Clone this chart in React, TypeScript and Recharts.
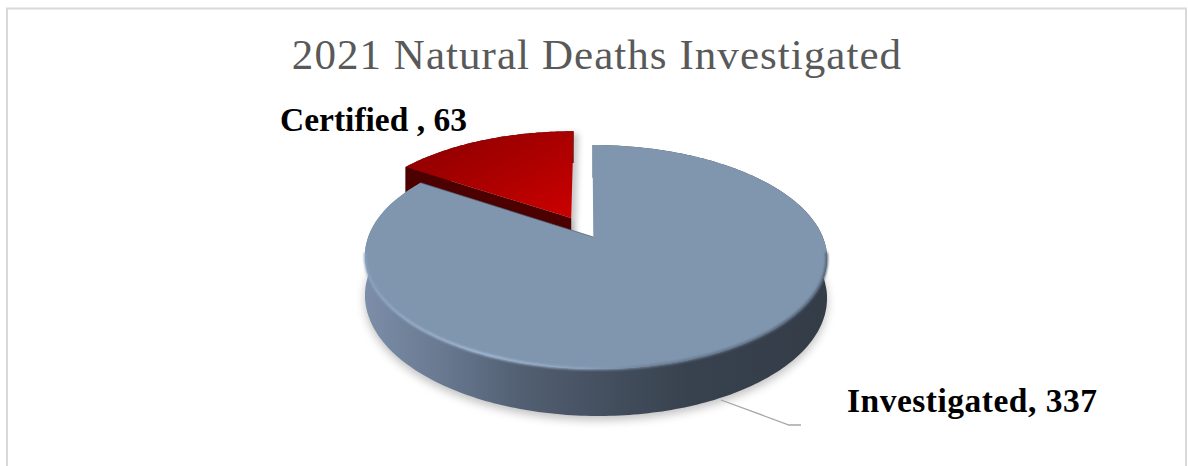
import { Pie, PieChart } from "recharts";

const names = ["Certified", "Investigated"];
const values = [63, 337];
const labelTexts = ["Certified , 63", "Investigated, 337"];
const colors = ["url(#redFace)", "#8095ae"];
const explodes = [0.2057, 0];

const data = names.map((name, i) => ({ name, value: values[i], fill: colors[i] }));

const WIDTH = 1188;
const HEIGHT = 466;
// squash and perspective of the tilted pie
const TILT = 0.477;
const PERSPECTIVE = 0.1786;
const DEPTH = 38.6;
const SKEW = 3;

function Slice3D(props: any) {
  const { cx, cy, outerRadius, startAngle, endAngle, name, payload } = props;
  const idx = names.indexOf(name ?? payload?.name);
  const explode = explodes[idx] ?? 0;
  const mid = (((startAngle + endAngle) / 2) * Math.PI) / 180;
  const du = Math.cos(mid) * explode;
  const dv = Math.sin(mid) * explode;

  const project = (u: number, v: number, z = 0, scale = 1) => {
    const d = 1 + PERSPECTIVE * (v * scale + dv);
    return [
      cx + (outerRadius * (u * scale + du)) / d - SKEW * (v * scale + dv + PERSPECTIVE),
      cy - (outerRadius * TILT * (v * scale + dv)) / d + (z * DEPTH) / d,
    ];
  };
  const arc = (z = 0, from = startAngle, to = endAngle, scale = 1) => {
    const steps = Math.ceil(Math.abs(to - from));
    const pts: number[][] = [];
    for (let i = 0; i <= steps; i++) {
      const a = ((from + ((to - from) * i) / steps) * Math.PI) / 180;
      pts.push(project(Math.cos(a), Math.sin(a), z, scale));
    }
    return pts;
  };
  const toPath = (pts: number[][], close = true) =>
    "M" + pts.map((p) => p[0].toFixed(1) + " " + p[1].toFixed(1)).join("L") + (close ? "Z" : "");

  const base = project(0, 0);
  const apex = [base[0] - 2.2, base[1]];
  const baseLow = project(0, 0, 1);
  const apexLow = [baseLow[0] - 2.2, baseLow[1]];
  const top = [apex, ...arc(0)];
  const wall = [...arc(0), ...arc(1).reverse()];
  const rad = (deg: number) => (deg * Math.PI) / 180;

  if (idx === 0) {
    const corner = project(Math.cos(rad(endAngle)), Math.sin(rad(endAngle)));
    const cornerLow = project(Math.cos(rad(endAngle)), Math.sin(rad(endAngle)), 1);
    return (
      <g>
        <path d={toPath([apex, apexLow, cornerLow, corner])} fill="#000" opacity={0.3} filter="url(#soft)" transform="translate(4 2)" />
        <path d={toPath(top)} fill="#000" opacity={0.22} filter="url(#soft)" transform="translate(5 2)" />
        <path d={toPath(wall)} fill="#3a0000" />
        <path d={toPath([corner, apex, apexLow, cornerLow])} fill="#4c0000" />
        <path d={toPath(top)} fill="url(#redFace)" />
      </g>
    );
  }

  const frontRim = arc(0, 188, 352, 0.999);
  const shadow = arc(1, 170, 370);
  return (
    <g>
      <path d={toPath(shadow)} fill="#8a8a8a" opacity={0.55} filter="url(#shadow)" transform="translate(0 4)" />
      <path d={toPath(wall)} fill="url(#wallShade)" />
      <path d={toPath(top)} fill="#8095ae" />
      <path d={toPath(frontRim, false)} fill="none" stroke="url(#rimShade)" strokeWidth={2.5} filter="url(#rimBlur)" />
      <path d={toPath([apex, project(Math.cos(rad(startAngle)), Math.sin(rad(startAngle)))], false)} fill="none" stroke="#4e5b6c" strokeWidth={1} opacity={0.7} />
    </g>
  );
}

function SliceLabel(props: any) {
  const i = names.indexOf(props.name ?? props.payload?.name);
  return (
    <text
      x={i === 0 ? 280 : 847}
      y={i === 0 ? 131 : 412}
      fontFamily="'Liberation Serif', serif"
      fontWeight="bold"
      fontSize={33.5}
      letterSpacing={i === 0 ? 0 : 0.5}
      fill="#000"
    >
      {labelTexts[i]}
    </text>
  );
}

function LeaderLine(props: any) {
  const i = names.indexOf(props.name ?? props.payload?.name);
  if (i !== 1) return <g />;
  return <polyline points="721,400 789,425 801,425" fill="none" stroke="#a6a6a6" strokeWidth={1.3} />;
}

export default function App() {
  return (
    <div style={{ position: "absolute", left: 0, top: 0, width: WIDTH, height: HEIGHT, overflow: "hidden", background: "#fff" }}>
      <PieChart width={WIDTH} height={HEIGHT} margin={{ top: 0, right: 0, bottom: 0, left: 0 }}>
        <defs>
          <linearGradient id="redFace" x1="0" y1="0" x2="1" y2="1">
            <stop offset="0%" stopColor="#870000" />
            <stop offset="100%" stopColor="#cc0000" />
          </linearGradient>
          <linearGradient id="wallShade" gradientUnits="userSpaceOnUse" x1="365" y1="0" x2="827" y2="0">
            <stop offset="0%" stopColor="#7c8ea8" />
            <stop offset="18%" stopColor="#66778e" />
            <stop offset="34%" stopColor="#525f72" />
            <stop offset="52%" stopColor="#444f5f" />
            <stop offset="70%" stopColor="#38424e" />
            <stop offset="100%" stopColor="#333c47" />
          </linearGradient>
          <linearGradient id="rimShade" gradientUnits="userSpaceOnUse" x1="365" y1="0" x2="827" y2="0">
            <stop offset="0%" stopColor="#8ba1bd" />
            <stop offset="25%" stopColor="#a8bdd8" />
            <stop offset="48%" stopColor="#8ea4bf" />
            <stop offset="62%" stopColor="#6a7c92" />
            <stop offset="100%" stopColor="#4f5e71" />
          </linearGradient>
          <filter id="soft" x="-20%" y="-20%" width="140%" height="140%">
            <feGaussianBlur stdDeviation="3" />
          </filter>
          <filter id="shadow" x="-10%" y="-10%" width="120%" height="130%">
            <feGaussianBlur stdDeviation="5" />
          </filter>
          <filter id="rimBlur" x="-5%" y="-5%" width="110%" height="110%">
            <feGaussianBlur stdDeviation="1" />
          </filter>
        </defs>
        <rect x={7} y={8.5} width={1179} height={480} fill="#fff" stroke="#d9d9d9" strokeWidth={2} />
        <text
          x={597}
          y={69}
          textAnchor="middle"
          fontFamily="'Liberation Serif', serif"
          fontSize={43}
          letterSpacing={1.05}
          fill="#595959"
        >
          2021 Natural Deaths Investigated
        </text>
        <Pie
          data={data}
          dataKey="value"
          nameKey="name"
          cx={596}
          cy={237}
          outerRadius={227.3}
          startAngle={90}
          endAngle={450}
          stroke="none"
          shape={Slice3D}
          label={SliceLabel}
          labelLine={LeaderLine}
          isAnimationActive={false}
        />
      </PieChart>
    </div>
  );
}
